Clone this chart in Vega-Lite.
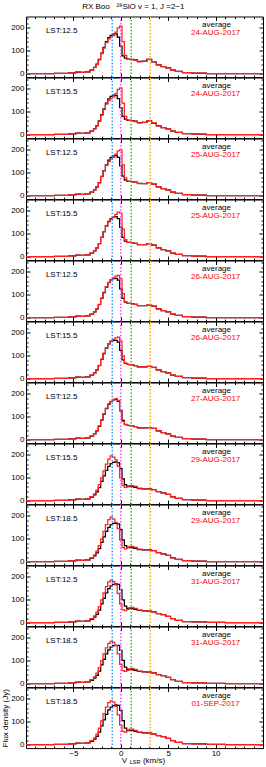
{
"$schema": "https://vega.github.io/schema/vega-lite/v6.json",
"background": "white",
"padding": {"left": 0, "top": 2.5, "right": 1, "bottom": 0},
"title": {"text": "RX Boo\u00a0\u00a0\u00a0\u00b2\u2078SiO v = 1, J =2\u22121", "font": "Liberation Sans", "fontSize": 8, "fontWeight": "normal", "color": "#000", "anchor": "middle", "offset": 3},
"spacing": 0,
"bounds": "flush",
"datasets": {
"s": [
{"v":-10,"k1":0,"r1":0,"k2":0,"r2":0,"k3":0,"r3":0,"k4":0,"r4":0,"k5":0,"r5":0,"k6":0,"r6":0,"k7":0,"r7":0,"k8":0,"r8":0,"k9":0,"r9":0,"k10":0,"r10":0,"k11":0,"r11":0,"k12":0,"r12":0},
{"v":-8,"k1":0,"r1":0,"k2":0,"r2":0,"k3":0,"r3":0,"k4":0,"r4":0,"k5":0,"r5":0,"k6":0,"r6":0,"k7":0,"r7":0,"k8":0,"r8":0,"k9":0,"r9":0,"k10":0,"r10":0,"k11":0,"r11":0,"k12":0,"r12":0},
{"v":-6,"k1":1,"r1":1,"k2":1,"r2":1,"k3":1,"r3":1,"k4":1,"r4":1,"k5":1,"r5":1,"k6":1,"r6":1,"k7":1,"r7":1,"k8":1,"r8":1,"k9":1,"r9":1,"k10":1,"r10":1,"k11":1,"r11":1,"k12":1,"r12":1},
{"v":-5,"k1":4,"r1":4,"k2":4,"r2":4,"k3":4,"r3":4,"k4":4,"r4":4,"k5":4,"r5":4,"k6":4,"r6":4,"k7":4,"r7":4,"k8":4,"r8":4,"k9":4,"r9":4,"k10":4,"r10":4,"k11":4,"r11":4,"k12":4,"r12":4},
{"v":-4.5,"k1":7,"r1":8,"k2":7,"r2":7,"k3":7,"r3":7,"k4":7,"r4":7,"k5":7,"r5":7,"k6":7,"r6":7,"k7":7,"r7":7,"k8":7,"r8":7,"k9":7,"r9":7,"k10":7,"r10":7,"k11":7,"r11":7,"k12":7,"r12":7},
{"v":-4,"k1":6,"r1":6,"k2":6,"r2":6,"k3":6,"r3":6,"k4":6,"r4":6,"k5":6,"r5":6,"k6":6,"r6":6,"k7":6,"r7":6,"k8":6,"r8":6,"k9":6,"r9":6,"k10":6,"r10":6,"k11":6,"r11":6,"k12":6,"r12":6},
{"v":-3.5,"k1":8,"r1":8,"k2":8,"r2":8,"k3":8,"r3":8,"k4":8,"r4":8,"k5":8,"r5":8,"k6":8,"r6":8,"k7":8,"r7":8,"k8":8,"r8":8,"k9":8,"r9":8,"k10":8,"r10":8,"k11":8,"r11":8,"k12":8,"r12":8},
{"v":-3,"k1":16,"r1":16,"k2":15,"r2":15,"k3":15,"r3":15,"k4":15,"r4":15,"k5":15,"r5":15,"k6":15,"r6":15,"k7":15,"r7":16,"k8":15,"r8":18,"k9":15,"r9":18,"k10":14,"r10":18,"k11":14,"r11":18,"k12":14,"r12":18},
{"v":-2.75,"k1":28,"r1":27,"k2":26,"r2":25,"k3":25,"r3":25,"k4":25,"r4":25,"k5":25,"r5":25,"k6":25,"r6":25,"k7":25,"r7":26,"k8":25,"r8":30,"k9":25,"r9":30,"k10":24,"r10":30,"k11":24,"r11":30,"k12":24,"r12":30},
{"v":-2.5,"k1":42,"r1":40,"k2":40,"r2":38,"k3":38,"r3":37,"k4":38,"r4":38,"k5":38,"r5":39,"k6":38,"r6":39,"k7":38,"r7":40,"k8":38,"r8":46,"k9":38,"r9":46,"k10":36,"r10":46,"k11":36,"r11":46,"k12":36,"r12":46},
{"v":-2.25,"k1":62,"r1":60,"k2":60,"r2":58,"k3":57,"r3":56,"k4":57,"r4":57,"k5":57,"r5":58,"k6":57,"r6":58,"k7":58,"r7":60,"k8":57,"r8":70,"k9":57,"r9":70,"k10":55,"r10":70,"k11":55,"r11":70,"k12":55,"r12":72},
{"v":-2,"k1":90,"r1":88,"k2":88,"r2":85,"k3":84,"r3":83,"k4":84,"r4":84,"k5":84,"r5":86,"k6":84,"r6":86,"k7":86,"r7":88,"k8":84,"r8":100,"k9":84,"r9":100,"k10":82,"r10":100,"k11":82,"r11":100,"k12":82,"r12":104},
{"v":-1.75,"k1":115,"r1":112,"k2":113,"r2":110,"k3":110,"r3":108,"k4":110,"r4":110,"k5":110,"r5":112,"k6":110,"r6":112,"k7":112,"r7":114,"k8":108,"r8":130,"k9":108,"r9":132,"k10":106,"r10":130,"k11":106,"r11":130,"k12":108,"r12":136},
{"v":-1.5,"k1":140,"r1":136,"k2":138,"r2":134,"k3":135,"r3":133,"k4":135,"r4":134,"k5":134,"r5":136,"k6":134,"r6":136,"k7":136,"r7":138,"k8":132,"r8":160,"k9":132,"r9":162,"k10":130,"r10":158,"k11":130,"r11":157,"k12":133,"r12":164},
{"v":-1.25,"k1":158,"r1":152,"k2":156,"r2":150,"k3":155,"r3":150,"k4":154,"r4":152,"k5":153,"r5":154,"k6":152,"r6":153,"k7":154,"r7":156,"k8":150,"r8":182,"k9":150,"r9":184,"k10":149,"r10":178,"k11":148,"r11":176,"k12":152,"r12":184},
{"v":-1,"k1":168,"r1":160,"k2":167,"r2":158,"k3":167,"r3":160,"k4":166,"r4":163,"k5":165,"r5":166,"k6":163,"r6":164,"k7":166,"r7":168,"k8":162,"r8":196,"k9":162,"r9":195,"k10":161,"r10":186,"k11":160,"r11":185,"k12":164,"r12":192},
{"v":-0.75,"k1":174,"r1":166,"k2":173,"r2":165,"k3":174,"r3":168,"k4":173,"r4":172,"k5":171,"r5":174,"k6":168,"r6":172,"k7":174,"r7":176,"k8":168,"r8":190,"k9":167,"r9":186,"k10":168,"r10":180,"k11":166,"r11":181,"k12":171,"r12":186},
{"v":-0.5,"k1":174,"r1":182,"k2":172,"r2":180,"k3":176,"r3":182,"k4":175,"r4":185,"k5":172,"r5":182,"k6":168,"r6":178,"k7":176,"r7":179,"k8":170,"r8":178,"k9":168,"r9":172,"k10":170,"r10":165,"k11":168,"r11":166,"k12":174,"r12":168},
{"v":-0.25,"k1":160,"r1":200,"k2":158,"r2":198,"k3":168,"r3":196,"k4":166,"r4":195,"k5":164,"r5":185,"k6":160,"r6":182,"k7":168,"r7":172,"k8":166,"r8":150,"k9":165,"r9":145,"k10":168,"r10":128,"k11":167,"r11":130,"k12":172,"r12":130},
{"v":0,"k1":120,"r1":208,"k2":118,"r2":205,"k3":130,"r3":200,"k4":128,"r4":190,"k5":126,"r5":170,"k6":124,"r6":165,"k7":128,"r7":125,"k8":140,"r8":100,"k9":140,"r9":95,"k10":145,"r10":82,"k11":146,"r11":84,"k12":150,"r12":85},
{"v":0.25,"k1":78,"r1":140,"k2":80,"r2":138,"k3":85,"r3":135,"k4":84,"r4":120,"k5":84,"r5":105,"k6":82,"r6":100,"k7":84,"r7":80,"k8":95,"r8":66,"k9":95,"r9":62,"k10":100,"r10":56,"k11":102,"r11":57,"k12":105,"r12":58},
{"v":0.5,"k1":68,"r1":80,"k2":68,"r2":80,"k3":68,"r3":78,"k4":68,"r4":74,"k5":68,"r5":70,"k6":67,"r6":68,"k7":67,"r7":66,"k8":70,"r8":58,"k9":70,"r9":56,"k10":72,"r10":53,"k11":72,"r11":54,"k12":72,"r12":55},
{"v":0.75,"k1":64,"r1":64,"k2":63,"r2":64,"k3":63,"r3":64,"k4":63,"r4":63,"k5":63,"r5":63,"k6":62,"r6":62,"k7":62,"r7":62,"k8":62,"r8":60,"k9":62,"r9":60,"k10":62,"r10":58,"k11":62,"r11":58,"k12":63,"r12":60},
{"v":1,"k1":63,"r1":62,"k2":62,"r2":62,"k3":62,"r3":62,"k4":62,"r4":62,"k5":62,"r5":62,"k6":61,"r6":61,"k7":61,"r7":61,"k8":62,"r8":66,"k9":62,"r9":67,"k10":62,"r10":66,"k11":62,"r11":66,"k12":63,"r12":68},
{"v":1.25,"k1":62,"r1":61,"k2":61,"r2":60,"k3":61,"r3":60,"k4":61,"r4":60,"k5":61,"r5":60,"k6":60,"r6":60,"k7":60,"r7":60,"k8":61,"r8":66,"k9":61,"r9":67,"k10":61,"r10":67,"k11":61,"r11":67,"k12":62,"r12":68},
{"v":1.5,"k1":60,"r1":58,"k2":59,"r2":57,"k3":59,"r3":58,"k4":58,"r4":58,"k5":58,"r5":58,"k6":57,"r6":57,"k7":57,"r7":57,"k8":58,"r8":62,"k9":58,"r9":62,"k10":58,"r10":62,"k11":58,"r11":62,"k12":58,"r12":63},
{"v":2,"k1":54,"r1":52,"k2":53,"r2":52,"k3":54,"r3":53,"k4":53,"r4":53,"k5":53,"r5":53,"k6":52,"r6":52,"k7":52,"r7":52,"k8":53,"r8":55,"k9":53,"r9":55,"k10":54,"r10":55,"k11":54,"r11":55,"k12":54,"r12":55},
{"v":2.5,"k1":55,"r1":54,"k2":54,"r2":54,"k3":53,"r3":53,"k4":53,"r4":53,"k5":53,"r5":53,"k6":52,"r6":52,"k7":52,"r7":52,"k8":52,"r8":52,"k9":52,"r9":52,"k10":52,"r10":52,"k11":52,"r11":52,"k12":52,"r12":52},
{"v":3,"k1":62,"r1":62,"k2":60,"r2":60,"k3":57,"r3":57,"k4":57,"r4":57,"k5":55,"r5":55,"k6":54,"r6":54,"k7":53,"r7":53,"k8":52,"r8":52,"k9":52,"r9":52,"k10":51,"r10":51,"k11":51,"r11":51,"k12":51,"r12":51},
{"v":3.5,"k1":52,"r1":53,"k2":51,"r2":52,"k3":50,"r3":50,"k4":50,"r4":50,"k5":50,"r5":50,"k6":49,"r6":49,"k7":49,"r7":49,"k8":48,"r8":48,"k9":48,"r9":48,"k10":47,"r10":47,"k11":47,"r11":47,"k12":46,"r12":46},
{"v":4,"k1":38,"r1":39,"k2":38,"r2":38,"k3":38,"r3":38,"k4":38,"r4":38,"k5":38,"r5":38,"k6":38,"r6":38,"k7":38,"r7":38,"k8":40,"r8":40,"k9":40,"r9":40,"k10":40,"r10":40,"k11":40,"r11":40,"k12":40,"r12":40},
{"v":4.5,"k1":31,"r1":31,"k2":31,"r2":31,"k3":31,"r3":31,"k4":31,"r4":31,"k5":31,"r5":31,"k6":31,"r6":31,"k7":31,"r7":31,"k8":34,"r8":34,"k9":34,"r9":34,"k10":35,"r10":35,"k11":35,"r11":35,"k12":35,"r12":35},
{"v":5,"k1":25,"r1":25,"k2":25,"r2":25,"k3":25,"r3":25,"k4":25,"r4":25,"k5":25,"r5":25,"k6":25,"r6":25,"k7":25,"r7":25,"k8":27,"r8":27,"k9":27,"r9":27,"k10":28,"r10":28,"k11":28,"r11":28,"k12":28,"r12":28},
{"v":5.5,"k1":16,"r1":16,"k2":16,"r2":16,"k3":16,"r3":16,"k4":16,"r4":16,"k5":16,"r5":16,"k6":16,"r6":16,"k7":16,"r7":16,"k8":17,"r8":17,"k9":17,"r9":17,"k10":18,"r10":18,"k11":18,"r11":18,"k12":18,"r12":18},
{"v":6,"k1":10,"r1":10,"k2":10,"r2":10,"k3":10,"r3":10,"k4":10,"r4":10,"k5":10,"r5":10,"k6":10,"r6":10,"k7":10,"r7":10,"k8":10,"r8":10,"k9":10,"r9":10,"k10":10,"r10":10,"k11":10,"r11":10,"k12":10,"r12":10},
{"v":7,"k1":5,"r1":5,"k2":5,"r2":5,"k3":5,"r3":5,"k4":5,"r4":5,"k5":5,"r5":5,"k6":5,"r6":5,"k7":5,"r7":5,"k8":5,"r8":5,"k9":5,"r9":5,"k10":5,"r10":5,"k11":5,"r11":5,"k12":5,"r12":5},
{"v":8,"k1":2,"r1":2,"k2":2,"r2":2,"k3":2,"r3":2,"k4":2,"r4":2,"k5":2,"r5":2,"k6":2,"r6":2,"k7":2,"r7":2,"k8":2,"r8":2,"k9":2,"r9":2,"k10":3,"r10":3,"k11":3,"r11":3,"k12":3,"r12":3},
{"v":10,"k1":0,"r1":0,"k2":0,"r2":0,"k3":0,"r3":0,"k4":0,"r4":0,"k5":0,"r5":0,"k6":0,"r6":0,"k7":0,"r7":0,"k8":0,"r8":0,"k9":0,"r9":0,"k10":1,"r10":1,"k11":1,"r11":1,"k12":1,"r12":1},
{"v":12,"k1":0,"r1":0,"k2":0,"r2":0,"k3":0,"r3":0,"k4":0,"r4":0,"k5":0,"r5":0,"k6":0,"r6":0,"k7":0,"r7":0,"k8":0,"r8":0,"k9":0,"r9":0,"k10":0,"r10":0,"k11":0,"r11":0,"k12":0,"r12":0},
{"v":15,"k1":0,"r1":0,"k2":0,"r2":0,"k3":0,"r3":0,"k4":0,"r4":0,"k5":0,"r5":0,"k6":0,"r6":0,"k7":0,"r7":0,"k8":0,"r8":0,"k9":0,"r9":0,"k10":0,"r10":0,"k11":0,"r11":0,"k12":0,"r12":0}
],
"lab": [
{"p":1,"t":"LST:12.5","d":"24-AUG-2017"},
{"p":2,"t":"LST:15.5","d":"24-AUG-2017"},
{"p":3,"t":"LST:12.5","d":"25-AUG-2017"},
{"p":4,"t":"LST:15.5","d":"25-AUG-2017"},
{"p":5,"t":"LST:12.5","d":"26-AUG-2017"},
{"p":6,"t":"LST:15.5","d":"26-AUG-2017"},
{"p":7,"t":"LST:12.5","d":"27-AUG-2017"},
{"p":8,"t":"LST:15.5","d":"29-AUG-2017"},
{"p":9,"t":"LST:18.5","d":"29-AUG-2017"},
{"p":10,"t":"LST:12.5","d":"31-AUG-2017"},
{"p":11,"t":"LST:18.5","d":"31-AUG-2017"},
{"p":12,"t":"LST:18.5","d":"01-SEP-2017"}
],
"vl": [{"v":-0.9,"c":"a"},{"v":0,"c":"b"},{"v":1.1,"c":"c"},{"v":3.1,"c":"d"}]
},
"vconcat": [
{"width":237,"height":60.6,"data":{"name":"s"},"resolve":{"axis":{"x":"independent","y":"independent"}},"layer":[
{"mark":{"type":"line","interpolate":"step","color":"#000","strokeWidth":1.25},"encoding":{"x":{"field":"v","type":"quantitative","scale":{"domain":[-10,15],"nice":false,"zero":false},"axis":{"orient":"bottom","values":[-9,-8,-7,-6,-5,-4,-3,-2,-1,0,1,2,3,4,5,6,7,8,9,10,11,12,13,14],"tickSize":{"condition":{"test":"datum.value % 5 === 0","value":-4},"value":-2},"labels":false,"title":null}},"y":{"field":"k1","type":"quantitative","scale":{"domain":[-15,250],"nice":false,"zero":false},"axis":{"orient":"left","values":[0,20,40,60,80,100,120,140,160,180,200,220,240],"tickSize":{"condition":{"test":"datum.value % 100 === 0","value":-4},"value":-2},"labelExpr":"datum.value % 100 === 0 ? datum.label : ''","labelPadding":6,"title":null}}}},
{"mark":{"type":"line","interpolate":"step","color":"#ff2020","strokeWidth":1.25},"encoding":{"x":{"field":"v","type":"quantitative","axis":{"orient":"top","values":[-9,-8,-7,-6,-5,-4,-3,-2,-1,0,1,2,3,4,5,6,7,8,9,10,11,12,13,14],"tickSize":{"condition":{"test":"datum.value % 5 === 0","value":-4},"value":-2},"labels":false,"title":null}},"y":{"field":"r1","type":"quantitative","axis":{"orient":"right","values":[0,20,40,60,80,100,120,140,160,180,200,220,240],"tickSize":{"condition":{"test":"datum.value % 100 === 0","value":-4},"value":-2},"labels":false,"title":null}}}},
{"data":{"name":"vl"},"mark":{"type":"rule","strokeDash":[1.5,1.8],"strokeWidth":1.5},"encoding":{"x":{"field":"v","type":"quantitative","axis":null},"color":{"field":"c","type":"nominal","scale":{"domain":["a","b","c","d"],"range":["#3399ff","#ee55ee","#33bb33","#ffa500"]},"legend":null}}},
{"data":{"name":"lab"},"transform":[{"filter":"datum.p==1"}],"mark":{"type":"text","align":"left","baseline":"middle","fontSize":8,"color":"#000"},"encoding":{"x":{"datum":-7.9,"type":"quantitative","axis":null},"y":{"datum":185,"type":"quantitative","axis":null},"text":{"field":"t"}}},
{"data":{"name":"lab"},"transform":[{"filter":"datum.p==1"}],"mark":{"type":"text","align":"center","baseline":"middle","fontSize":8,"color":"#000"},"encoding":{"x":{"datum":10.1,"type":"quantitative","axis":null},"y":{"datum":212,"type":"quantitative","axis":null},"text":{"value":"average"}}},
{"data":{"name":"lab"},"transform":[{"filter":"datum.p==1"}],"mark":{"type":"text","align":"center","baseline":"middle","fontSize":8,"color":"#ff0000"},"encoding":{"x":{"datum":10.0,"type":"quantitative","axis":null},"y":{"datum":179,"type":"quantitative","axis":null},"text":{"field":"d"}}}
]},
{"width":237,"height":60.6,"data":{"name":"s"},"resolve":{"axis":{"x":"independent","y":"independent"}},"layer":[
{"mark":{"type":"line","interpolate":"step","color":"#000","strokeWidth":1.25},"encoding":{"x":{"field":"v","type":"quantitative","scale":{"domain":[-10,15],"nice":false,"zero":false},"axis":{"orient":"bottom","values":[-9,-8,-7,-6,-5,-4,-3,-2,-1,0,1,2,3,4,5,6,7,8,9,10,11,12,13,14],"tickSize":{"condition":{"test":"datum.value % 5 === 0","value":-4},"value":-2},"labels":false,"title":null}},"y":{"field":"k2","type":"quantitative","scale":{"domain":[-15,250],"nice":false,"zero":false},"axis":{"orient":"left","values":[0,20,40,60,80,100,120,140,160,180,200,220,240],"tickSize":{"condition":{"test":"datum.value % 100 === 0","value":-4},"value":-2},"labelExpr":"datum.value % 100 === 0 ? datum.label : ''","labelPadding":6,"title":null}}}},
{"mark":{"type":"line","interpolate":"step","color":"#ff2020","strokeWidth":1.25},"encoding":{"x":{"field":"v","type":"quantitative","axis":{"orient":"top","values":[-9,-8,-7,-6,-5,-4,-3,-2,-1,0,1,2,3,4,5,6,7,8,9,10,11,12,13,14],"tickSize":{"condition":{"test":"datum.value % 5 === 0","value":-4},"value":-2},"labels":false,"title":null}},"y":{"field":"r2","type":"quantitative","axis":{"orient":"right","values":[0,20,40,60,80,100,120,140,160,180,200,220,240],"tickSize":{"condition":{"test":"datum.value % 100 === 0","value":-4},"value":-2},"labels":false,"title":null}}}},
{"data":{"name":"vl"},"mark":{"type":"rule","strokeDash":[1.5,1.8],"strokeWidth":1.5},"encoding":{"x":{"field":"v","type":"quantitative","axis":null},"color":{"field":"c","type":"nominal","scale":{"domain":["a","b","c","d"],"range":["#3399ff","#ee55ee","#33bb33","#ffa500"]},"legend":null}}},
{"data":{"name":"lab"},"transform":[{"filter":"datum.p==2"}],"mark":{"type":"text","align":"left","baseline":"middle","fontSize":8,"color":"#000"},"encoding":{"x":{"datum":-7.9,"type":"quantitative","axis":null},"y":{"datum":185,"type":"quantitative","axis":null},"text":{"field":"t"}}},
{"data":{"name":"lab"},"transform":[{"filter":"datum.p==2"}],"mark":{"type":"text","align":"center","baseline":"middle","fontSize":8,"color":"#000"},"encoding":{"x":{"datum":10.1,"type":"quantitative","axis":null},"y":{"datum":212,"type":"quantitative","axis":null},"text":{"value":"average"}}},
{"data":{"name":"lab"},"transform":[{"filter":"datum.p==2"}],"mark":{"type":"text","align":"center","baseline":"middle","fontSize":8,"color":"#ff0000"},"encoding":{"x":{"datum":10.0,"type":"quantitative","axis":null},"y":{"datum":179,"type":"quantitative","axis":null},"text":{"field":"d"}}}
]},
{"width":237,"height":60.6,"data":{"name":"s"},"resolve":{"axis":{"x":"independent","y":"independent"}},"layer":[
{"mark":{"type":"line","interpolate":"step","color":"#000","strokeWidth":1.25},"encoding":{"x":{"field":"v","type":"quantitative","scale":{"domain":[-10,15],"nice":false,"zero":false},"axis":{"orient":"bottom","values":[-9,-8,-7,-6,-5,-4,-3,-2,-1,0,1,2,3,4,5,6,7,8,9,10,11,12,13,14],"tickSize":{"condition":{"test":"datum.value % 5 === 0","value":-4},"value":-2},"labels":false,"title":null}},"y":{"field":"k3","type":"quantitative","scale":{"domain":[-15,250],"nice":false,"zero":false},"axis":{"orient":"left","values":[0,20,40,60,80,100,120,140,160,180,200,220,240],"tickSize":{"condition":{"test":"datum.value % 100 === 0","value":-4},"value":-2},"labelExpr":"datum.value % 100 === 0 ? datum.label : ''","labelPadding":6,"title":null}}}},
{"mark":{"type":"line","interpolate":"step","color":"#ff2020","strokeWidth":1.25},"encoding":{"x":{"field":"v","type":"quantitative","axis":{"orient":"top","values":[-9,-8,-7,-6,-5,-4,-3,-2,-1,0,1,2,3,4,5,6,7,8,9,10,11,12,13,14],"tickSize":{"condition":{"test":"datum.value % 5 === 0","value":-4},"value":-2},"labels":false,"title":null}},"y":{"field":"r3","type":"quantitative","axis":{"orient":"right","values":[0,20,40,60,80,100,120,140,160,180,200,220,240],"tickSize":{"condition":{"test":"datum.value % 100 === 0","value":-4},"value":-2},"labels":false,"title":null}}}},
{"data":{"name":"vl"},"mark":{"type":"rule","strokeDash":[1.5,1.8],"strokeWidth":1.5},"encoding":{"x":{"field":"v","type":"quantitative","axis":null},"color":{"field":"c","type":"nominal","scale":{"domain":["a","b","c","d"],"range":["#3399ff","#ee55ee","#33bb33","#ffa500"]},"legend":null}}},
{"data":{"name":"lab"},"transform":[{"filter":"datum.p==3"}],"mark":{"type":"text","align":"left","baseline":"middle","fontSize":8,"color":"#000"},"encoding":{"x":{"datum":-7.9,"type":"quantitative","axis":null},"y":{"datum":185,"type":"quantitative","axis":null},"text":{"field":"t"}}},
{"data":{"name":"lab"},"transform":[{"filter":"datum.p==3"}],"mark":{"type":"text","align":"center","baseline":"middle","fontSize":8,"color":"#000"},"encoding":{"x":{"datum":10.1,"type":"quantitative","axis":null},"y":{"datum":212,"type":"quantitative","axis":null},"text":{"value":"average"}}},
{"data":{"name":"lab"},"transform":[{"filter":"datum.p==3"}],"mark":{"type":"text","align":"center","baseline":"middle","fontSize":8,"color":"#ff0000"},"encoding":{"x":{"datum":10.0,"type":"quantitative","axis":null},"y":{"datum":179,"type":"quantitative","axis":null},"text":{"field":"d"}}}
]},
{"width":237,"height":60.6,"data":{"name":"s"},"resolve":{"axis":{"x":"independent","y":"independent"}},"layer":[
{"mark":{"type":"line","interpolate":"step","color":"#000","strokeWidth":1.25},"encoding":{"x":{"field":"v","type":"quantitative","scale":{"domain":[-10,15],"nice":false,"zero":false},"axis":{"orient":"bottom","values":[-9,-8,-7,-6,-5,-4,-3,-2,-1,0,1,2,3,4,5,6,7,8,9,10,11,12,13,14],"tickSize":{"condition":{"test":"datum.value % 5 === 0","value":-4},"value":-2},"labels":false,"title":null}},"y":{"field":"k4","type":"quantitative","scale":{"domain":[-15,250],"nice":false,"zero":false},"axis":{"orient":"left","values":[0,20,40,60,80,100,120,140,160,180,200,220,240],"tickSize":{"condition":{"test":"datum.value % 100 === 0","value":-4},"value":-2},"labelExpr":"datum.value % 100 === 0 ? datum.label : ''","labelPadding":6,"title":null}}}},
{"mark":{"type":"line","interpolate":"step","color":"#ff2020","strokeWidth":1.25},"encoding":{"x":{"field":"v","type":"quantitative","axis":{"orient":"top","values":[-9,-8,-7,-6,-5,-4,-3,-2,-1,0,1,2,3,4,5,6,7,8,9,10,11,12,13,14],"tickSize":{"condition":{"test":"datum.value % 5 === 0","value":-4},"value":-2},"labels":false,"title":null}},"y":{"field":"r4","type":"quantitative","axis":{"orient":"right","values":[0,20,40,60,80,100,120,140,160,180,200,220,240],"tickSize":{"condition":{"test":"datum.value % 100 === 0","value":-4},"value":-2},"labels":false,"title":null}}}},
{"data":{"name":"vl"},"mark":{"type":"rule","strokeDash":[1.5,1.8],"strokeWidth":1.5},"encoding":{"x":{"field":"v","type":"quantitative","axis":null},"color":{"field":"c","type":"nominal","scale":{"domain":["a","b","c","d"],"range":["#3399ff","#ee55ee","#33bb33","#ffa500"]},"legend":null}}},
{"data":{"name":"lab"},"transform":[{"filter":"datum.p==4"}],"mark":{"type":"text","align":"left","baseline":"middle","fontSize":8,"color":"#000"},"encoding":{"x":{"datum":-7.9,"type":"quantitative","axis":null},"y":{"datum":185,"type":"quantitative","axis":null},"text":{"field":"t"}}},
{"data":{"name":"lab"},"transform":[{"filter":"datum.p==4"}],"mark":{"type":"text","align":"center","baseline":"middle","fontSize":8,"color":"#000"},"encoding":{"x":{"datum":10.1,"type":"quantitative","axis":null},"y":{"datum":212,"type":"quantitative","axis":null},"text":{"value":"average"}}},
{"data":{"name":"lab"},"transform":[{"filter":"datum.p==4"}],"mark":{"type":"text","align":"center","baseline":"middle","fontSize":8,"color":"#ff0000"},"encoding":{"x":{"datum":10.0,"type":"quantitative","axis":null},"y":{"datum":179,"type":"quantitative","axis":null},"text":{"field":"d"}}}
]},
{"width":237,"height":60.6,"data":{"name":"s"},"resolve":{"axis":{"x":"independent","y":"independent"}},"layer":[
{"mark":{"type":"line","interpolate":"step","color":"#000","strokeWidth":1.25},"encoding":{"x":{"field":"v","type":"quantitative","scale":{"domain":[-10,15],"nice":false,"zero":false},"axis":{"orient":"bottom","values":[-9,-8,-7,-6,-5,-4,-3,-2,-1,0,1,2,3,4,5,6,7,8,9,10,11,12,13,14],"tickSize":{"condition":{"test":"datum.value % 5 === 0","value":-4},"value":-2},"labels":false,"title":null}},"y":{"field":"k5","type":"quantitative","scale":{"domain":[-15,250],"nice":false,"zero":false},"axis":{"orient":"left","values":[0,20,40,60,80,100,120,140,160,180,200,220,240],"tickSize":{"condition":{"test":"datum.value % 100 === 0","value":-4},"value":-2},"labelExpr":"datum.value % 100 === 0 ? datum.label : ''","labelPadding":6,"title":null}}}},
{"mark":{"type":"line","interpolate":"step","color":"#ff2020","strokeWidth":1.25},"encoding":{"x":{"field":"v","type":"quantitative","axis":{"orient":"top","values":[-9,-8,-7,-6,-5,-4,-3,-2,-1,0,1,2,3,4,5,6,7,8,9,10,11,12,13,14],"tickSize":{"condition":{"test":"datum.value % 5 === 0","value":-4},"value":-2},"labels":false,"title":null}},"y":{"field":"r5","type":"quantitative","axis":{"orient":"right","values":[0,20,40,60,80,100,120,140,160,180,200,220,240],"tickSize":{"condition":{"test":"datum.value % 100 === 0","value":-4},"value":-2},"labels":false,"title":null}}}},
{"data":{"name":"vl"},"mark":{"type":"rule","strokeDash":[1.5,1.8],"strokeWidth":1.5},"encoding":{"x":{"field":"v","type":"quantitative","axis":null},"color":{"field":"c","type":"nominal","scale":{"domain":["a","b","c","d"],"range":["#3399ff","#ee55ee","#33bb33","#ffa500"]},"legend":null}}},
{"data":{"name":"lab"},"transform":[{"filter":"datum.p==5"}],"mark":{"type":"text","align":"left","baseline":"middle","fontSize":8,"color":"#000"},"encoding":{"x":{"datum":-7.9,"type":"quantitative","axis":null},"y":{"datum":185,"type":"quantitative","axis":null},"text":{"field":"t"}}},
{"data":{"name":"lab"},"transform":[{"filter":"datum.p==5"}],"mark":{"type":"text","align":"center","baseline":"middle","fontSize":8,"color":"#000"},"encoding":{"x":{"datum":10.1,"type":"quantitative","axis":null},"y":{"datum":212,"type":"quantitative","axis":null},"text":{"value":"average"}}},
{"data":{"name":"lab"},"transform":[{"filter":"datum.p==5"}],"mark":{"type":"text","align":"center","baseline":"middle","fontSize":8,"color":"#ff0000"},"encoding":{"x":{"datum":10.0,"type":"quantitative","axis":null},"y":{"datum":179,"type":"quantitative","axis":null},"text":{"field":"d"}}}
]},
{"width":237,"height":60.6,"data":{"name":"s"},"resolve":{"axis":{"x":"independent","y":"independent"}},"layer":[
{"mark":{"type":"line","interpolate":"step","color":"#000","strokeWidth":1.25},"encoding":{"x":{"field":"v","type":"quantitative","scale":{"domain":[-10,15],"nice":false,"zero":false},"axis":{"orient":"bottom","values":[-9,-8,-7,-6,-5,-4,-3,-2,-1,0,1,2,3,4,5,6,7,8,9,10,11,12,13,14],"tickSize":{"condition":{"test":"datum.value % 5 === 0","value":-4},"value":-2},"labels":false,"title":null}},"y":{"field":"k6","type":"quantitative","scale":{"domain":[-15,250],"nice":false,"zero":false},"axis":{"orient":"left","values":[0,20,40,60,80,100,120,140,160,180,200,220,240],"tickSize":{"condition":{"test":"datum.value % 100 === 0","value":-4},"value":-2},"labelExpr":"datum.value % 100 === 0 ? datum.label : ''","labelPadding":6,"title":null}}}},
{"mark":{"type":"line","interpolate":"step","color":"#ff2020","strokeWidth":1.25},"encoding":{"x":{"field":"v","type":"quantitative","axis":{"orient":"top","values":[-9,-8,-7,-6,-5,-4,-3,-2,-1,0,1,2,3,4,5,6,7,8,9,10,11,12,13,14],"tickSize":{"condition":{"test":"datum.value % 5 === 0","value":-4},"value":-2},"labels":false,"title":null}},"y":{"field":"r6","type":"quantitative","axis":{"orient":"right","values":[0,20,40,60,80,100,120,140,160,180,200,220,240],"tickSize":{"condition":{"test":"datum.value % 100 === 0","value":-4},"value":-2},"labels":false,"title":null}}}},
{"data":{"name":"vl"},"mark":{"type":"rule","strokeDash":[1.5,1.8],"strokeWidth":1.5},"encoding":{"x":{"field":"v","type":"quantitative","axis":null},"color":{"field":"c","type":"nominal","scale":{"domain":["a","b","c","d"],"range":["#3399ff","#ee55ee","#33bb33","#ffa500"]},"legend":null}}},
{"data":{"name":"lab"},"transform":[{"filter":"datum.p==6"}],"mark":{"type":"text","align":"left","baseline":"middle","fontSize":8,"color":"#000"},"encoding":{"x":{"datum":-7.9,"type":"quantitative","axis":null},"y":{"datum":185,"type":"quantitative","axis":null},"text":{"field":"t"}}},
{"data":{"name":"lab"},"transform":[{"filter":"datum.p==6"}],"mark":{"type":"text","align":"center","baseline":"middle","fontSize":8,"color":"#000"},"encoding":{"x":{"datum":10.1,"type":"quantitative","axis":null},"y":{"datum":212,"type":"quantitative","axis":null},"text":{"value":"average"}}},
{"data":{"name":"lab"},"transform":[{"filter":"datum.p==6"}],"mark":{"type":"text","align":"center","baseline":"middle","fontSize":8,"color":"#ff0000"},"encoding":{"x":{"datum":10.0,"type":"quantitative","axis":null},"y":{"datum":179,"type":"quantitative","axis":null},"text":{"field":"d"}}}
]},
{"width":237,"height":60.6,"data":{"name":"s"},"resolve":{"axis":{"x":"independent","y":"independent"}},"layer":[
{"mark":{"type":"line","interpolate":"step","color":"#000","strokeWidth":1.25},"encoding":{"x":{"field":"v","type":"quantitative","scale":{"domain":[-10,15],"nice":false,"zero":false},"axis":{"orient":"bottom","values":[-9,-8,-7,-6,-5,-4,-3,-2,-1,0,1,2,3,4,5,6,7,8,9,10,11,12,13,14],"tickSize":{"condition":{"test":"datum.value % 5 === 0","value":-4},"value":-2},"labels":false,"title":null}},"y":{"field":"k7","type":"quantitative","scale":{"domain":[-15,250],"nice":false,"zero":false},"axis":{"orient":"left","values":[0,20,40,60,80,100,120,140,160,180,200,220,240],"tickSize":{"condition":{"test":"datum.value % 100 === 0","value":-4},"value":-2},"labelExpr":"datum.value % 100 === 0 ? datum.label : ''","labelPadding":6,"title":null}}}},
{"mark":{"type":"line","interpolate":"step","color":"#ff2020","strokeWidth":1.25},"encoding":{"x":{"field":"v","type":"quantitative","axis":{"orient":"top","values":[-9,-8,-7,-6,-5,-4,-3,-2,-1,0,1,2,3,4,5,6,7,8,9,10,11,12,13,14],"tickSize":{"condition":{"test":"datum.value % 5 === 0","value":-4},"value":-2},"labels":false,"title":null}},"y":{"field":"r7","type":"quantitative","axis":{"orient":"right","values":[0,20,40,60,80,100,120,140,160,180,200,220,240],"tickSize":{"condition":{"test":"datum.value % 100 === 0","value":-4},"value":-2},"labels":false,"title":null}}}},
{"data":{"name":"vl"},"mark":{"type":"rule","strokeDash":[1.5,1.8],"strokeWidth":1.5},"encoding":{"x":{"field":"v","type":"quantitative","axis":null},"color":{"field":"c","type":"nominal","scale":{"domain":["a","b","c","d"],"range":["#3399ff","#ee55ee","#33bb33","#ffa500"]},"legend":null}}},
{"data":{"name":"lab"},"transform":[{"filter":"datum.p==7"}],"mark":{"type":"text","align":"left","baseline":"middle","fontSize":8,"color":"#000"},"encoding":{"x":{"datum":-7.9,"type":"quantitative","axis":null},"y":{"datum":185,"type":"quantitative","axis":null},"text":{"field":"t"}}},
{"data":{"name":"lab"},"transform":[{"filter":"datum.p==7"}],"mark":{"type":"text","align":"center","baseline":"middle","fontSize":8,"color":"#000"},"encoding":{"x":{"datum":10.1,"type":"quantitative","axis":null},"y":{"datum":212,"type":"quantitative","axis":null},"text":{"value":"average"}}},
{"data":{"name":"lab"},"transform":[{"filter":"datum.p==7"}],"mark":{"type":"text","align":"center","baseline":"middle","fontSize":8,"color":"#ff0000"},"encoding":{"x":{"datum":10.0,"type":"quantitative","axis":null},"y":{"datum":179,"type":"quantitative","axis":null},"text":{"field":"d"}}}
]},
{"width":237,"height":60.6,"data":{"name":"s"},"resolve":{"axis":{"x":"independent","y":"independent"}},"layer":[
{"mark":{"type":"line","interpolate":"step","color":"#000","strokeWidth":1.25},"encoding":{"x":{"field":"v","type":"quantitative","scale":{"domain":[-10,15],"nice":false,"zero":false},"axis":{"orient":"bottom","values":[-9,-8,-7,-6,-5,-4,-3,-2,-1,0,1,2,3,4,5,6,7,8,9,10,11,12,13,14],"tickSize":{"condition":{"test":"datum.value % 5 === 0","value":-4},"value":-2},"labels":false,"title":null}},"y":{"field":"k8","type":"quantitative","scale":{"domain":[-15,250],"nice":false,"zero":false},"axis":{"orient":"left","values":[0,20,40,60,80,100,120,140,160,180,200,220,240],"tickSize":{"condition":{"test":"datum.value % 100 === 0","value":-4},"value":-2},"labelExpr":"datum.value % 100 === 0 ? datum.label : ''","labelPadding":6,"title":null}}}},
{"mark":{"type":"line","interpolate":"step","color":"#ff2020","strokeWidth":1.25},"encoding":{"x":{"field":"v","type":"quantitative","axis":{"orient":"top","values":[-9,-8,-7,-6,-5,-4,-3,-2,-1,0,1,2,3,4,5,6,7,8,9,10,11,12,13,14],"tickSize":{"condition":{"test":"datum.value % 5 === 0","value":-4},"value":-2},"labels":false,"title":null}},"y":{"field":"r8","type":"quantitative","axis":{"orient":"right","values":[0,20,40,60,80,100,120,140,160,180,200,220,240],"tickSize":{"condition":{"test":"datum.value % 100 === 0","value":-4},"value":-2},"labels":false,"title":null}}}},
{"data":{"name":"vl"},"mark":{"type":"rule","strokeDash":[1.5,1.8],"strokeWidth":1.5},"encoding":{"x":{"field":"v","type":"quantitative","axis":null},"color":{"field":"c","type":"nominal","scale":{"domain":["a","b","c","d"],"range":["#3399ff","#ee55ee","#33bb33","#ffa500"]},"legend":null}}},
{"data":{"name":"lab"},"transform":[{"filter":"datum.p==8"}],"mark":{"type":"text","align":"left","baseline":"middle","fontSize":8,"color":"#000"},"encoding":{"x":{"datum":-7.9,"type":"quantitative","axis":null},"y":{"datum":185,"type":"quantitative","axis":null},"text":{"field":"t"}}},
{"data":{"name":"lab"},"transform":[{"filter":"datum.p==8"}],"mark":{"type":"text","align":"center","baseline":"middle","fontSize":8,"color":"#000"},"encoding":{"x":{"datum":10.1,"type":"quantitative","axis":null},"y":{"datum":212,"type":"quantitative","axis":null},"text":{"value":"average"}}},
{"data":{"name":"lab"},"transform":[{"filter":"datum.p==8"}],"mark":{"type":"text","align":"center","baseline":"middle","fontSize":8,"color":"#ff0000"},"encoding":{"x":{"datum":10.0,"type":"quantitative","axis":null},"y":{"datum":179,"type":"quantitative","axis":null},"text":{"field":"d"}}}
]},
{"width":237,"height":60.6,"data":{"name":"s"},"resolve":{"axis":{"x":"independent","y":"independent"}},"layer":[
{"mark":{"type":"line","interpolate":"step","color":"#000","strokeWidth":1.25},"encoding":{"x":{"field":"v","type":"quantitative","scale":{"domain":[-10,15],"nice":false,"zero":false},"axis":{"orient":"bottom","values":[-9,-8,-7,-6,-5,-4,-3,-2,-1,0,1,2,3,4,5,6,7,8,9,10,11,12,13,14],"tickSize":{"condition":{"test":"datum.value % 5 === 0","value":-4},"value":-2},"labels":false,"title":null}},"y":{"field":"k9","type":"quantitative","scale":{"domain":[-15,250],"nice":false,"zero":false},"axis":{"orient":"left","values":[0,20,40,60,80,100,120,140,160,180,200,220,240],"tickSize":{"condition":{"test":"datum.value % 100 === 0","value":-4},"value":-2},"labelExpr":"datum.value % 100 === 0 ? datum.label : ''","labelPadding":6,"title":null}}}},
{"mark":{"type":"line","interpolate":"step","color":"#ff2020","strokeWidth":1.25},"encoding":{"x":{"field":"v","type":"quantitative","axis":{"orient":"top","values":[-9,-8,-7,-6,-5,-4,-3,-2,-1,0,1,2,3,4,5,6,7,8,9,10,11,12,13,14],"tickSize":{"condition":{"test":"datum.value % 5 === 0","value":-4},"value":-2},"labels":false,"title":null}},"y":{"field":"r9","type":"quantitative","axis":{"orient":"right","values":[0,20,40,60,80,100,120,140,160,180,200,220,240],"tickSize":{"condition":{"test":"datum.value % 100 === 0","value":-4},"value":-2},"labels":false,"title":null}}}},
{"data":{"name":"vl"},"mark":{"type":"rule","strokeDash":[1.5,1.8],"strokeWidth":1.5},"encoding":{"x":{"field":"v","type":"quantitative","axis":null},"color":{"field":"c","type":"nominal","scale":{"domain":["a","b","c","d"],"range":["#3399ff","#ee55ee","#33bb33","#ffa500"]},"legend":null}}},
{"data":{"name":"lab"},"transform":[{"filter":"datum.p==9"}],"mark":{"type":"text","align":"left","baseline":"middle","fontSize":8,"color":"#000"},"encoding":{"x":{"datum":-7.9,"type":"quantitative","axis":null},"y":{"datum":185,"type":"quantitative","axis":null},"text":{"field":"t"}}},
{"data":{"name":"lab"},"transform":[{"filter":"datum.p==9"}],"mark":{"type":"text","align":"center","baseline":"middle","fontSize":8,"color":"#000"},"encoding":{"x":{"datum":10.1,"type":"quantitative","axis":null},"y":{"datum":212,"type":"quantitative","axis":null},"text":{"value":"average"}}},
{"data":{"name":"lab"},"transform":[{"filter":"datum.p==9"}],"mark":{"type":"text","align":"center","baseline":"middle","fontSize":8,"color":"#ff0000"},"encoding":{"x":{"datum":10.0,"type":"quantitative","axis":null},"y":{"datum":179,"type":"quantitative","axis":null},"text":{"field":"d"}}}
]},
{"width":237,"height":60.6,"data":{"name":"s"},"resolve":{"axis":{"x":"independent","y":"independent"}},"layer":[
{"mark":{"type":"line","interpolate":"step","color":"#000","strokeWidth":1.25},"encoding":{"x":{"field":"v","type":"quantitative","scale":{"domain":[-10,15],"nice":false,"zero":false},"axis":{"orient":"bottom","values":[-9,-8,-7,-6,-5,-4,-3,-2,-1,0,1,2,3,4,5,6,7,8,9,10,11,12,13,14],"tickSize":{"condition":{"test":"datum.value % 5 === 0","value":-4},"value":-2},"labels":false,"title":null}},"y":{"field":"k10","type":"quantitative","scale":{"domain":[-15,250],"nice":false,"zero":false},"axis":{"orient":"left","values":[0,20,40,60,80,100,120,140,160,180,200,220,240],"tickSize":{"condition":{"test":"datum.value % 100 === 0","value":-4},"value":-2},"labelExpr":"datum.value % 100 === 0 ? datum.label : ''","labelPadding":6,"title":null}}}},
{"mark":{"type":"line","interpolate":"step","color":"#ff2020","strokeWidth":1.25},"encoding":{"x":{"field":"v","type":"quantitative","axis":{"orient":"top","values":[-9,-8,-7,-6,-5,-4,-3,-2,-1,0,1,2,3,4,5,6,7,8,9,10,11,12,13,14],"tickSize":{"condition":{"test":"datum.value % 5 === 0","value":-4},"value":-2},"labels":false,"title":null}},"y":{"field":"r10","type":"quantitative","axis":{"orient":"right","values":[0,20,40,60,80,100,120,140,160,180,200,220,240],"tickSize":{"condition":{"test":"datum.value % 100 === 0","value":-4},"value":-2},"labels":false,"title":null}}}},
{"data":{"name":"vl"},"mark":{"type":"rule","strokeDash":[1.5,1.8],"strokeWidth":1.5},"encoding":{"x":{"field":"v","type":"quantitative","axis":null},"color":{"field":"c","type":"nominal","scale":{"domain":["a","b","c","d"],"range":["#3399ff","#ee55ee","#33bb33","#ffa500"]},"legend":null}}},
{"data":{"name":"lab"},"transform":[{"filter":"datum.p==10"}],"mark":{"type":"text","align":"left","baseline":"middle","fontSize":8,"color":"#000"},"encoding":{"x":{"datum":-7.9,"type":"quantitative","axis":null},"y":{"datum":185,"type":"quantitative","axis":null},"text":{"field":"t"}}},
{"data":{"name":"lab"},"transform":[{"filter":"datum.p==10"}],"mark":{"type":"text","align":"center","baseline":"middle","fontSize":8,"color":"#000"},"encoding":{"x":{"datum":10.1,"type":"quantitative","axis":null},"y":{"datum":212,"type":"quantitative","axis":null},"text":{"value":"average"}}},
{"data":{"name":"lab"},"transform":[{"filter":"datum.p==10"}],"mark":{"type":"text","align":"center","baseline":"middle","fontSize":8,"color":"#ff0000"},"encoding":{"x":{"datum":10.0,"type":"quantitative","axis":null},"y":{"datum":179,"type":"quantitative","axis":null},"text":{"field":"d"}}}
]},
{"width":237,"height":60.6,"data":{"name":"s"},"resolve":{"axis":{"x":"independent","y":"independent"}},"layer":[
{"mark":{"type":"line","interpolate":"step","color":"#000","strokeWidth":1.25},"encoding":{"x":{"field":"v","type":"quantitative","scale":{"domain":[-10,15],"nice":false,"zero":false},"axis":{"orient":"bottom","values":[-9,-8,-7,-6,-5,-4,-3,-2,-1,0,1,2,3,4,5,6,7,8,9,10,11,12,13,14],"tickSize":{"condition":{"test":"datum.value % 5 === 0","value":-4},"value":-2},"labels":false,"title":null}},"y":{"field":"k11","type":"quantitative","scale":{"domain":[-15,250],"nice":false,"zero":false},"axis":{"orient":"left","values":[0,20,40,60,80,100,120,140,160,180,200,220,240],"tickSize":{"condition":{"test":"datum.value % 100 === 0","value":-4},"value":-2},"labelExpr":"datum.value % 100 === 0 ? datum.label : ''","labelPadding":6,"title":null}}}},
{"mark":{"type":"line","interpolate":"step","color":"#ff2020","strokeWidth":1.25},"encoding":{"x":{"field":"v","type":"quantitative","axis":{"orient":"top","values":[-9,-8,-7,-6,-5,-4,-3,-2,-1,0,1,2,3,4,5,6,7,8,9,10,11,12,13,14],"tickSize":{"condition":{"test":"datum.value % 5 === 0","value":-4},"value":-2},"labels":false,"title":null}},"y":{"field":"r11","type":"quantitative","axis":{"orient":"right","values":[0,20,40,60,80,100,120,140,160,180,200,220,240],"tickSize":{"condition":{"test":"datum.value % 100 === 0","value":-4},"value":-2},"labels":false,"title":null}}}},
{"data":{"name":"vl"},"mark":{"type":"rule","strokeDash":[1.5,1.8],"strokeWidth":1.5},"encoding":{"x":{"field":"v","type":"quantitative","axis":null},"color":{"field":"c","type":"nominal","scale":{"domain":["a","b","c","d"],"range":["#3399ff","#ee55ee","#33bb33","#ffa500"]},"legend":null}}},
{"data":{"name":"lab"},"transform":[{"filter":"datum.p==11"}],"mark":{"type":"text","align":"left","baseline":"middle","fontSize":8,"color":"#000"},"encoding":{"x":{"datum":-7.9,"type":"quantitative","axis":null},"y":{"datum":185,"type":"quantitative","axis":null},"text":{"field":"t"}}},
{"data":{"name":"lab"},"transform":[{"filter":"datum.p==11"}],"mark":{"type":"text","align":"center","baseline":"middle","fontSize":8,"color":"#000"},"encoding":{"x":{"datum":10.1,"type":"quantitative","axis":null},"y":{"datum":212,"type":"quantitative","axis":null},"text":{"value":"average"}}},
{"data":{"name":"lab"},"transform":[{"filter":"datum.p==11"}],"mark":{"type":"text","align":"center","baseline":"middle","fontSize":8,"color":"#ff0000"},"encoding":{"x":{"datum":10.0,"type":"quantitative","axis":null},"y":{"datum":179,"type":"quantitative","axis":null},"text":{"field":"d"}}}
]},
{"width":237,"height":60.6,"data":{"name":"s"},"resolve":{"axis":{"x":"independent","y":"independent"}},"layer":[
{"mark":{"type":"line","interpolate":"step","color":"#000","strokeWidth":1.25},"encoding":{"x":{"field":"v","type":"quantitative","scale":{"domain":[-10,15],"nice":false,"zero":false},"axis":{"orient":"bottom","values":[-9,-8,-7,-6,-5,-4,-3,-2,-1,0,1,2,3,4,5,6,7,8,9,10,11,12,13,14],"tickSize":{"condition":{"test":"datum.value % 5 === 0","value":-4},"value":-2},"labelExpr":"datum.value % 5 === 0 ? datum.label : ''","labelPadding":5,"title":"V","titleAlign":"center","titleX":98,"titleY":8}},"y":{"field":"k12","type":"quantitative","scale":{"domain":[-15,250],"nice":false,"zero":false},"axis":{"orient":"left","values":[0,20,40,60,80,100,120,140,160,180,200,220,240],"tickSize":{"condition":{"test":"datum.value % 100 === 0","value":-4},"value":-2},"labelExpr":"datum.value % 100 === 0 ? datum.label : ''","labelPadding":6,"title":"Flux density (Jy)","titlePadding":1.5}}}},
{"mark":{"type":"line","interpolate":"step","color":"#ff2020","strokeWidth":1.25},"encoding":{"x":{"field":"v","type":"quantitative","axis":{"orient":"top","values":[-9,-8,-7,-6,-5,-4,-3,-2,-1,0,1,2,3,4,5,6,7,8,9,10,11,12,13,14],"tickSize":{"condition":{"test":"datum.value % 5 === 0","value":-4},"value":-2},"labels":false,"title":null}},"y":{"field":"r12","type":"quantitative","axis":{"orient":"right","values":[0,20,40,60,80,100,120,140,160,180,200,220,240],"tickSize":{"condition":{"test":"datum.value % 100 === 0","value":-4},"value":-2},"labels":false,"title":null}}}},
{"data":{"name":"vl"},"mark":{"type":"rule","strokeDash":[1.5,1.8],"strokeWidth":1.5},"encoding":{"x":{"field":"v","type":"quantitative","axis":{"orient":"bottom","ticks":false,"labels":false,"title":"LSR","titleFontSize":5.5,"titleAlign":"center","titleX":108.5,"titleY":11.5}},"color":{"field":"c","type":"nominal","scale":{"domain":["a","b","c","d"],"range":["#3399ff","#ee55ee","#33bb33","#ffa500"]},"legend":null}}},
{"data":{"name":"lab"},"transform":[{"filter":"datum.p==12"}],"mark":{"type":"text","align":"left","baseline":"middle","fontSize":8,"color":"#000"},"encoding":{"x":{"datum":-7.9,"type":"quantitative","axis":null},"y":{"datum":185,"type":"quantitative","axis":null},"text":{"field":"t"}}},
{"data":{"name":"lab"},"transform":[{"filter":"datum.p==12"}],"mark":{"type":"text","align":"center","baseline":"middle","fontSize":8,"color":"#000"},"encoding":{"x":{"datum":10.1,"type":"quantitative","axis":{"orient":"bottom","ticks":false,"labels":false,"title":"(km/s)","titleAlign":"center","titleX":127.5,"titleY":8}},"y":{"datum":212,"type":"quantitative","axis":null},"text":{"value":"average"}}},
{"data":{"name":"lab"},"transform":[{"filter":"datum.p==12"}],"mark":{"type":"text","align":"center","baseline":"middle","fontSize":8,"color":"#ff0000"},"encoding":{"x":{"datum":10.0,"type":"quantitative","axis":null},"y":{"datum":179,"type":"quantitative","axis":null},"text":{"field":"d"}}}
]}
],
"config": {
"view": {"stroke": "#000", "strokeWidth": 1},
"font": "Liberation Sans",
"axis": {"domain": false, "grid": false, "tickColor": "#000", "tickWidth": 1, "labelFont": "Liberation Sans", "labelFontSize": 8, "labelColor": "#000", "titleFont": "Liberation Sans", "titleFontSize": 8, "titleFontWeight": "normal", "titleColor": "#000", "labelOverlap": false, "labelFlush": false},
"text": {"font": "Liberation Sans"}
}
}
